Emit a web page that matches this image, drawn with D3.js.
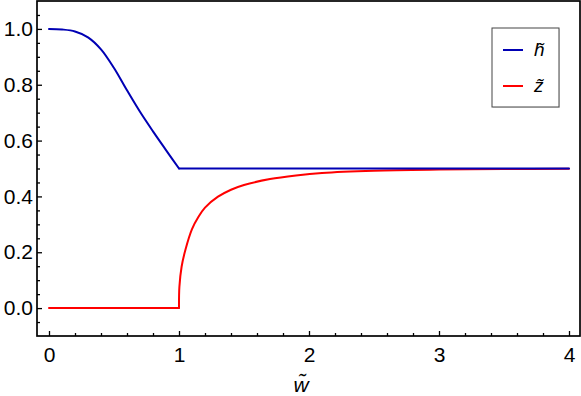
<!DOCTYPE html>
<html>
<head>
<meta charset="utf-8">
<script src="https://cdn.jsdelivr.net/npm/d3@7"></script>
<style>
body { margin: 0; background: #fff; }
svg { display: block; }
</style>
</head>
<body>
<svg id="chart" width="581" height="396"></svg>
<script>
// values
var hW = [0, 0.1, 0.2, 0.3, 0.4, 0.5, 0.6, 0.7, 0.8, 0.9, 1.0, 2, 3, 4];
var hValues = [1.0, 0.998, 0.991, 0.970, 0.927, 0.860, 0.780, 0.703, 0.633, 0.566, 0.5, 0.5, 0.5, 0.5];

var zW = [0, 1, 1.003, 1.02, 1.05, 1.1, 1.15, 1.2, 1.3, 1.4, 1.5, 1.7, 1.9, 2.1, 2.5, 3, 3.5, 4];
var zValues = [0, 0, 0.076, 0.148, 0.21, 0.283, 0.327, 0.36, 0.399, 0.424, 0.441, 0.462, 0.475, 0.484, 0.492, 0.496, 0.498, 0.499];

var xTicks = [0, 1, 2, 3, 4];
var yTicks = [0.0, 0.2, 0.4, 0.6, 0.8, 1.0];
var seriesNames = ["h\u0303", "z\u0303"];
var seriesColors = ["#0000b4", "#ff0000"];

var margin = {top: 1, right: 1, bottom: 60, left: 37},
	width = 581 - margin.left - margin.right,
	height = 396 - margin.top - margin.bottom;

var x = d3.scaleLinear().domain([-0.0923, 4.0846]).range([0, width]);
var y = d3.scaleLinear().domain([-0.1, 1.1]).range([height, 0]);

var svg = d3.select("#chart")
	.append("g")
	.attr("transform", "translate(" + margin.left + "," + margin.top + ")");

var font = "'Liberation Sans', Arial, sans-serif";

// curves, split where the function has a corner (w = 1)
function pieces(ws, vs) {
	var k = ws.indexOf(1);
	var all = ws.map(function(w, i) { return [w, vs[i]]; });
	return [all.slice(0, k + 1), all.slice(k)];
}

var smooth = d3.line()
	.x(function(d) { return x(d[0]); })
	.y(function(d) { return y(d[1]); })
	.curve(d3.curveCatmullRom.alpha(0.5));

var hParts = pieces(hW, hValues);
var zParts = pieces(zW, zValues);

function drawPath(data, color) {
	svg.append("path")
		.datum(data)
		.attr("fill", "none")
		.attr("stroke", color)
		.attr("stroke-width", 2)
		.attr("stroke-linejoin", "round")
		.attr("stroke-linecap", "round")
		.attr("d", smooth);
}

drawPath(zParts[0], seriesColors[1]);
drawPath(zParts[1], seriesColors[1]);
drawPath(hParts[0], seriesColors[0]);
drawPath(hParts[1], seriesColors[0]);

// minor ticks
var xMinor = d3.range(0, 4.01, 0.2).filter(function(v) { return Math.abs(v - Math.round(v)) > 1e-6; });
var yMinor = d3.range(-0.05, 1.1, 0.05).filter(function(v) { return Math.abs(v * 5 - Math.round(v * 5)) > 1e-6; });

// x axis
svg.append("g")
	.attr("transform", "translate(0," + height + ")")
	.call(d3.axisBottom(x).tickValues(xTicks).tickSize(-5).tickPadding(11).tickFormat(d3.format("d")));
svg.append("g")
	.attr("transform", "translate(0," + height + ")")
	.call(d3.axisBottom(x).tickValues(xMinor).tickSize(-3).tickFormat(""));

// y axis
svg.append("g")
	.call(d3.axisLeft(y).tickValues(yTicks).tickSize(-5).tickPadding(4).tickFormat(d3.format(".1f")));
svg.append("g")
	.call(d3.axisLeft(y).tickValues(yMinor).tickSize(-3).tickFormat(""));

svg.selectAll(".domain").remove();
svg.selectAll(".tick line").attr("stroke", "#000").attr("stroke-width", 1.3);
svg.selectAll(".tick text")
	.attr("fill", "#000")
	.style("font-family", font)
	.style("font-size", "21px");

// frame
svg.append("rect")
	.attr("x", 0)
	.attr("y", 0)
	.attr("width", width)
	.attr("height", height)
	.attr("fill", "none")
	.attr("stroke", "#000")
	.attr("stroke-width", 1.7);

// x label
svg.append("text")
	.attr("x", x(2) - 8)
	.attr("y", height + 56)
	.attr("text-anchor", "middle")
	.style("font-family", font)
	.style("font-size", "21px")
	.style("font-style", "italic")
	.text("w\u0303");

// legend
var legend = svg.append("g")
	.attr("transform", "translate(" + (492 - margin.left) + "," + (28 - margin.top) + ")");

legend.append("rect")
	.attr("x", 1)
	.attr("y", 1)
	.attr("width", 67)
	.attr("height", 79)
	.attr("fill", "#e6e6e6");
legend.append("rect")
	.attr("width", 67)
	.attr("height", 79)
	.attr("fill", "#fff")
	.attr("stroke", "#444")
	.attr("stroke-width", 1);

seriesNames.forEach(function(name, i) {
	var ly = 22 + i * 36;
	legend.append("line")
		.attr("x1", 11)
		.attr("x2", 31)
		.attr("y1", ly)
		.attr("y2", ly)
		.attr("stroke", seriesColors[i])
		.attr("stroke-width", 2);
	legend.append("text")
		.attr("x", 42)
		.attr("y", ly + 6)
		.style("font-family", font)
		.style("font-size", "19px")
		.style("font-style", "italic")
		.text(name);
});
</script>
</body>
</html>
